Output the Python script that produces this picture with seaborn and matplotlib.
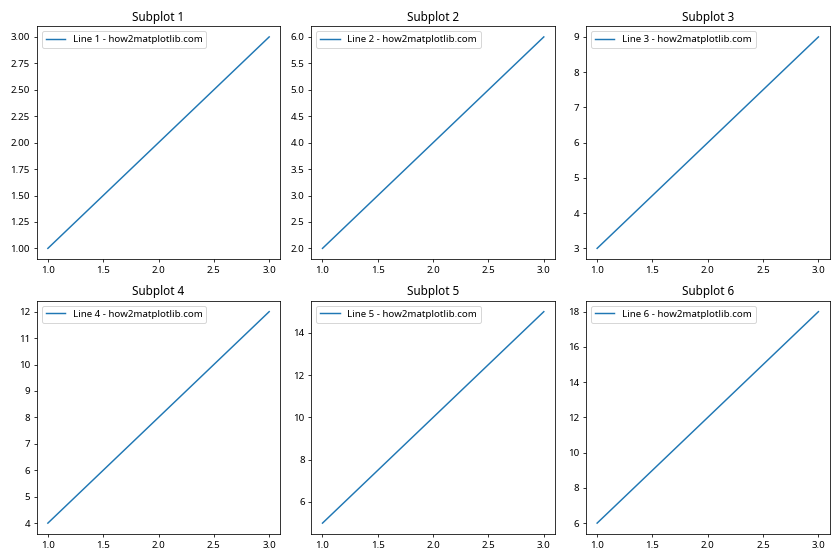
import matplotlib
matplotlib.use("Agg")
import matplotlib.pyplot as plt
import seaborn as sns
import pandas as pd

# Data for the six subplots
x_values = [1, 2, 3]
line_1 = [1, 2, 3]
line_2 = [2, 4, 6]
line_3 = [3, 6, 9]
line_4 = [4, 8, 12]
line_5 = [5, 10, 15]
line_6 = [6, 12, 18]
series = [line_1, line_2, line_3, line_4, line_5, line_6]
labels = [f"Line {i} - how2matplotlib.com" for i in range(1, 7)]
titles = [f"Subplot {i}" for i in range(1, 7)]

plt.rcParams['font.family'] = ['Noto Sans', 'DejaVu Sans']

fig, axes = plt.subplots(2, 3, figsize=(12, 8), dpi=70)
for ax, y, label, title in zip(axes.flat, series, labels, titles):
    df = pd.DataFrame({'x': x_values, 'y': y})
    sns.lineplot(data=df, x='x', y='y', ax=ax, label=label, color='#1f77b4')
    ax.set_title(title, fontsize=12)
    ax.set_xlabel('')
    ax.set_ylabel('')
    ax.legend(loc='upper left', fontsize=10)

plt.tight_layout()
plt.savefig('out.png', dpi=70)
plt.close()
